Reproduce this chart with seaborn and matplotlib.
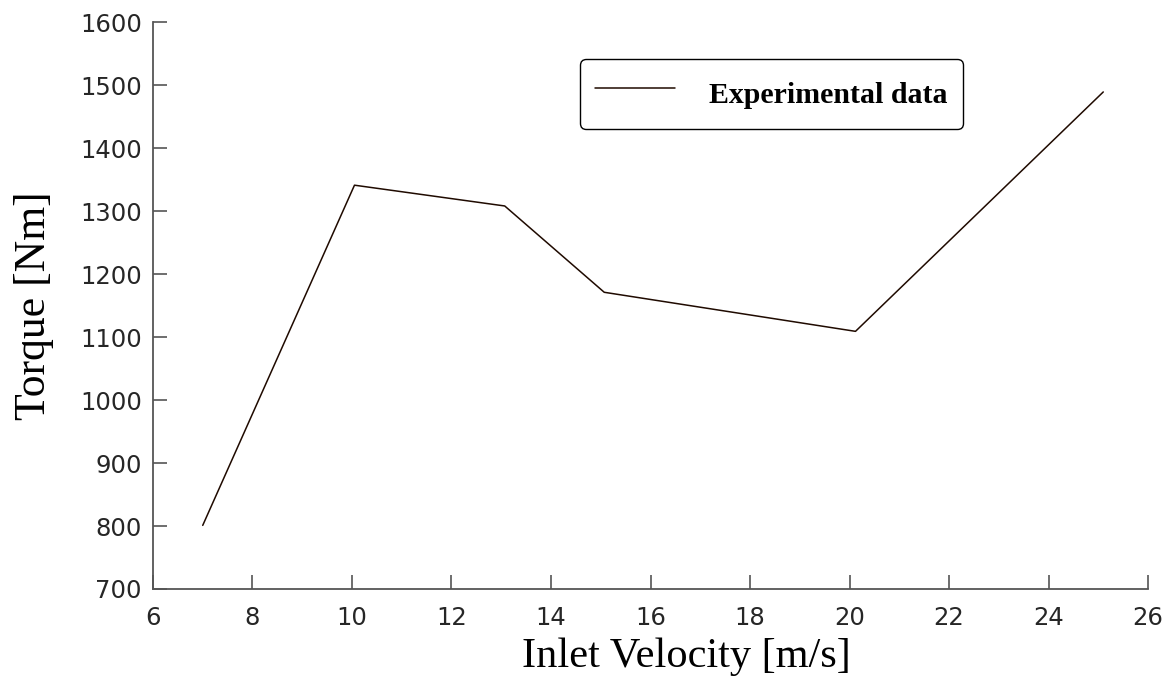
import matplotlib
matplotlib.use("Agg")
import matplotlib.pyplot as plt
import seaborn as sns
import pandas as pd

velocity = [7.0, 10.05, 13.07, 15.07, 20.12, 25.1]
torque = [801, 1341, 1308, 1171, 1109, 1489]
xticks = [6, 8, 10, 12, 14, 16, 18, 20, 22, 24, 26]
yticks = [700, 800, 900, 1000, 1100, 1200, 1300, 1400, 1500, 1600]

df = pd.DataFrame({"Inlet Velocity [m/s]": velocity, "Torque [Nm]": torque})

sns.set_theme(style="ticks")
plt.rcParams["font.family"] = ["DejaVu Sans"]

fig = plt.figure(figsize=(11.74, 6.86), dpi=100)
ax = fig.add_axes([0.1303, 0.1414, 0.8476, 0.8265])

sns.lineplot(data=df, x="Inlet Velocity [m/s]", y="Torque [Nm]", ax=ax,
             color="#1f0a00", linewidth=1.1, label="Experimental data")

ax.set_xlim(6, 26)
ax.set_ylim(700, 1600)
ax.set_xticks(xticks)
ax.set_yticks(yticks)
ax.tick_params(axis="both", direction="in", length=10, width=1.2, colors="#555555",
               labelcolor="#262626", labelsize=17.5)
ax.tick_params(axis="x", pad=12)
ax.tick_params(axis="y", pad=8)
for s in ["top", "right"]:
    ax.spines[s].set_visible(False)
for s in ["left", "bottom"]:
    ax.spines[s].set_color("#555555")
    ax.spines[s].set_linewidth(1.3)

ax.set_xlabel("Inlet Velocity [m/s]", fontsize=30.5, family="Liberation Serif", color="black", labelpad=8)
ax.set_ylabel("Torque [Nm]", fontsize=31.5, family="Liberation Serif", color="black", labelpad=19)
ax.xaxis.set_label_coords(0.536, -0.085)

leg = ax.legend(loc="upper left", bbox_to_anchor=(0.4289, 0.9355), frameon=True, fancybox=True,
                prop={"family": "Liberation Serif", "weight": "bold", "size": 21.5},
                handlelength=2.7, handleheight=1.7, handletextpad=1.14, borderpad=0.5,
                borderaxespad=0)
leg.get_frame().set_edgecolor("black")
leg.get_frame().set_linewidth(1.0)
leg.get_frame().set_alpha(1)
for t in leg.get_texts():
    t.set_color("black")

fig.savefig("out.png", dpi=100)
